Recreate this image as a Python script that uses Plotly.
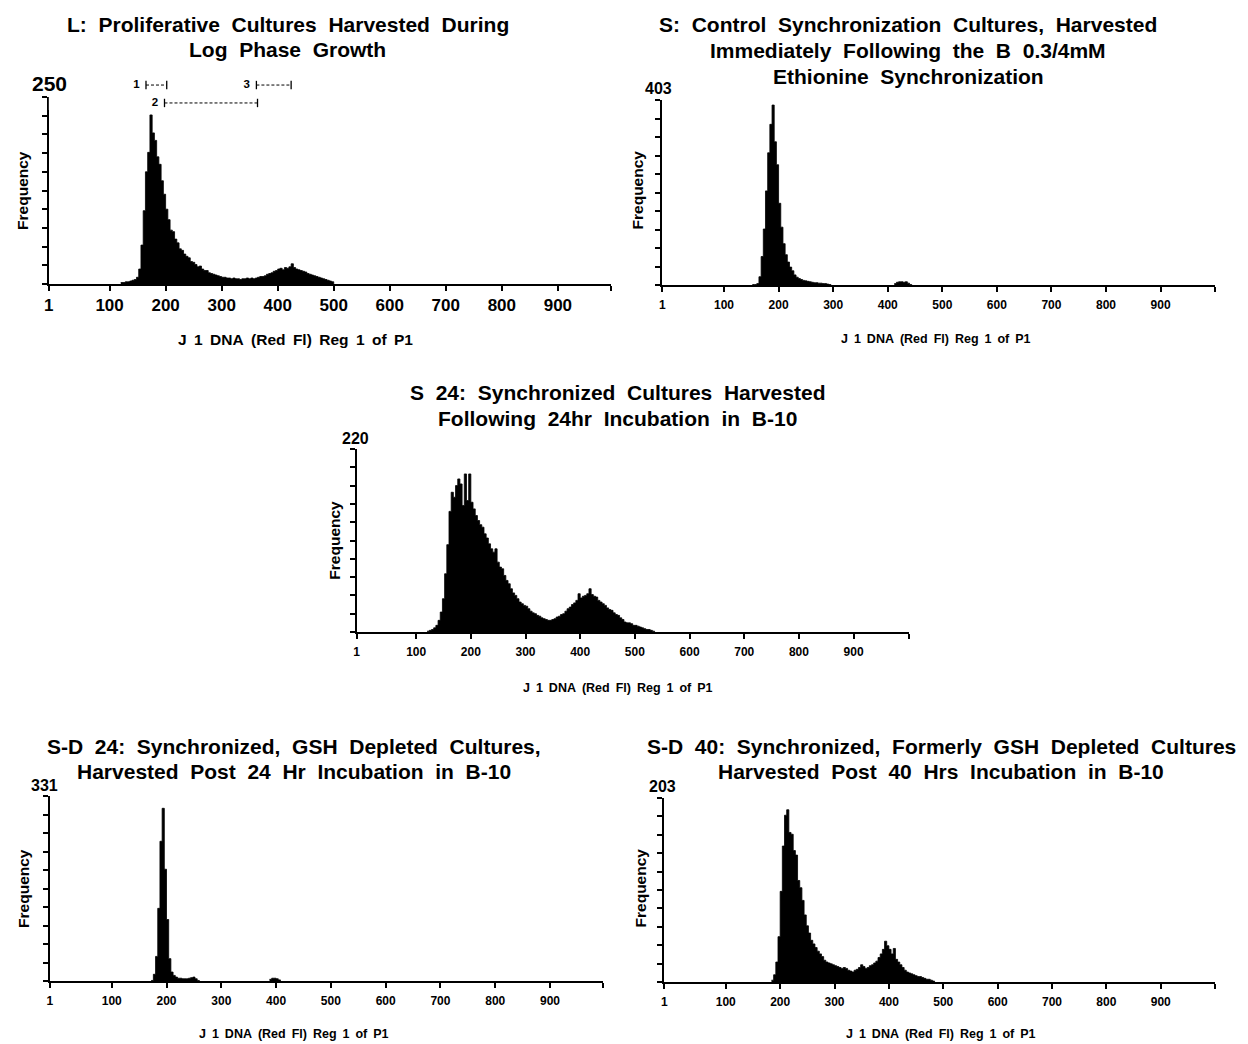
import plotly.graph_objects as go

W, H = 1248, 1044
BIN = 4  # channels per histogram bin

# ---------------- data (counts per 4-channel bin) ----------------
L_start = 120
L_counts = [2, 2, 3, 3, 4, 5, 6, 9, 20, 52,
            98, 150, 176, 226, 202, 192, 170, 160, 138, 120,
            100, 86, 72, 70, 60, 55, 47, 45, 40, 37,
            35, 30, 29, 26, 23, 24, 20, 18, 18, 15,
            14, 13, 12, 11, 10, 9, 9, 8, 8, 7,
            8, 7, 7, 6, 7, 7, 8, 7, 8, 7,
            8, 9, 10, 10, 11, 13, 14, 15, 17, 18,
            20, 21, 19, 22, 21, 23, 27, 22, 20, 19,
            18, 17, 16, 14, 13, 12, 11, 10, 9, 8,
            7, 6, 5, 4, 3]

S_start = 152
S_counts = [1, 1, 3, 18, 62, 122, 205, 288, 350, 392,
            312, 262, 178, 126, 90, 66, 50, 39, 31, 22,
            17, 14, 12, 10, 9, 8, 7, 6, 5, 5,
            4, 4, 3, 3, 2, 1]
S_bump_start = 412
S_bump_counts = [3, 6, 7, 7, 6, 7, 4, 1]

S24_start = 120
S24_counts = [1, 2, 3, 5, 8, 14, 24, 40, 70, 105,
              145, 168, 162, 176, 184, 178, 152, 190, 158, 190,
              156, 148, 140, 134, 129, 126, 118, 113, 106, 100,
              96, 100, 84, 78, 76, 68, 62, 58, 52, 47,
              44, 40, 36, 34, 32, 31, 28, 25, 23, 22,
              20, 19, 17, 16, 15, 14, 14, 15, 16, 18,
              19, 21, 22, 25, 28, 30, 33, 35, 38, 46,
              41, 43, 44, 46, 52, 45, 43, 42, 38, 36,
              34, 32, 29, 27, 26, 23, 21, 20, 17, 15,
              12, 11, 11, 10, 8, 8, 7, 6, 5, 4,
              3, 3, 2, 1]

SD24_start = 172
SD24_counts = [1, 12, 44, 130, 250, 309, 200, 110, 40, 16,
               10, 7, 5, 5, 4, 4, 4, 5, 6, 7,
               4, 1]
SD24_bump_start = 388
SD24_bump_counts = [3, 5, 5, 4, 2]

SD40_start = 184
SD40_counts = [2, 8, 22, 50, 100, 150, 184, 190, 165, 163,
               145, 140, 112, 104, 90, 74, 62, 54, 46, 42,
               38, 34, 31, 28, 24, 22, 21, 20, 19, 18,
               17, 16, 15, 16, 15, 13, 12, 11, 13, 14,
               16, 19, 17, 15, 16, 18, 19, 21, 23, 27,
               31, 36, 45, 40, 36, 31, 37, 25, 22, 19,
               16, 13, 11, 10, 9, 8, 7, 6, 6, 5,
               4, 3, 3, 2, 1]

y_max_L, y_max_S, y_max_S24, y_max_SD24, y_max_SD40 = 250, 403, 220, 331, 203

tick_values = [1, 100, 200, 300, 400, 500, 600, 700, 800, 900]
tick_labels = ["1", "100", "200", "300", "400", "500", "600", "700", "800", "900"]

# gating regions drawn above panel L (channel bounds)
region_names = ["1", "2", "3"]
region_lo = [165, 198, 362]
region_hi = [202, 364, 424]
region_level = [0.78, 0.22, 0.78]

titles = {
    "L": ["L: Proliferative Cultures Harvested During", "Log Phase Growth"],
    "S": ["S: Control Synchronization Cultures, Harvested",
          "Immediately Following the B 0.3/4mM", "Ethionine Synchronization"],
    "S24": ["S 24: Synchronized Cultures Harvested", "Following 24hr Incubation in B-10"],
    "SD24": ["S-D 24: Synchronized, GSH Depleted Cultures,",
             "Harvested Post 24 Hr Incubation in B-10"],
    "SD40": ["S-D 40: Synchronized, Formerly GSH Depleted Cultures",
             "Harvested Post 40 Hrs Incubation in B-10"],
}
x_title = "J 1 DNA (Red Fl) Reg 1 of P1"
y_title = "Frequency"

# ---------------- layout spec (pixels) ----------------
FONT = "Liberation Sans, Arial, Helvetica, sans-serif"
WIDE = "\u00a0\u00a0"          # wide word gap, as in the typeset original
MID = "\u00a0\u2009"           # medium word gap


def spaced(s, gap):
    return s.replace(" ", gap)


panels = [
    dict(key="L", segs=[(L_start, L_counts)], ymax=y_max_L,
         xd=(44, 608), yd=(97, 284), xr=(-8.4, 994),
         tickfs=17, xtfs=15.5, xt_pos=(292, 340), yl_pos=(18, 190),
         max_pos=(45, 83), max_fs=21,
         title_pos=[(284, 25), (284, 50)]),
    dict(key="S", segs=[(S_start, S_counts), (S_bump_start, S_bump_counts)], ymax=y_max_S,
         xd=(660, 1215), yd=(100, 285), xr=(-13, 1000),
         tickfs=12, xtfs=12.5, xt_pos=(935, 339), yl_pos=(636, 190),
         max_pos=(656, 88), max_fs=16,
         title_pos=[(907, 25), (907, 51), (907, 77)]),
    dict(key="S24", segs=[(S24_start, S24_counts)], ymax=y_max_S24,
         xd=(353, 908), yd=(449, 632), xr=(-9, 1002),
         tickfs=12, xtfs=12.5, xt_pos=(615, 688), yl_pos=(330, 540),
         max_pos=(352, 438), max_fs=16,
         title_pos=[(615, 392), (615, 418)]),
    dict(key="SD24", segs=[(SD24_start, SD24_counts), (SD24_bump_start, SD24_bump_counts)], ymax=y_max_SD24,
         xd=(45, 600), yd=(796, 981), xr=(-13, 996),
         tickfs=12, xtfs=12.5, xt_pos=(290, 1034), yl_pos=(18, 888),
         max_pos=(40, 785), max_fs=16,
         title_pos=[(290, 746), (290, 771)]),
    dict(key="SD40", segs=[(SD40_start, SD40_counts)], ymax=y_max_SD40,
         xd=(662, 1215), yd=(798, 982), xr=(-13, 1000),
         tickfs=12, xtfs=12.5, xt_pos=(940, 1034), yl_pos=(638, 888),
         max_pos=(660, 786), max_fs=16,
         title_pos=[(940, 746), (940, 771)]),
]


def fx(px):
    return px / W


def fy(py):
    return 1 - py / H


fig = go.Figure()
annotations = []
layout = dict(width=W, height=H, margin=dict(l=0, r=0, t=0, b=0), autosize=False,
              paper_bgcolor="white", plot_bgcolor="white", showlegend=False,
              font=dict(family=FONT, color="black"))

for i, p in enumerate(panels):
    n = i + 1
    xa, ya = ("x" if n == 1 else f"x{n}"), ("y" if n == 1 else f"y{n}")
    for start, counts in p["segs"]:
        edges = [start + BIN * k for k in range(len(counts) + 1)]
        fig.add_trace(go.Scatter(x=edges, y=list(counts) + [0], xaxis=xa, yaxis=ya,
                                 mode="lines", line=dict(shape="hv", color="black", width=0.8),
                                 fill="tozeroy", fillcolor="black", hoverinfo="skip"))
    # the instrument prints the first label ("1") at the axis origin
    tv = [p["xr"][0]] + tick_values[1:] + [p["xr"][1]]
    layout[f"xaxis{'' if n == 1 else n}"] = dict(
        domain=[fx(p["xd"][0]), fx(p["xd"][1])], range=list(p["xr"]), anchor=ya,
        showline=True, linecolor="black", linewidth=2, mirror=False,
        ticks="outside", ticklen=5, tickwidth=1.5, tickcolor="black",
        ticklabelstandoff=(0 if n == 1 else 3),
        tickvals=tv, ticktext=[f"<b>{t}</b>" for t in tick_labels] + [""],
        tickfont=dict(size=p["tickfs"], family=FONT, color="black"),
        showgrid=False, zeroline=False, fixedrange=True)
    layout[f"yaxis{'' if n == 1 else n}"] = dict(
        domain=[fy(p["yd"][1]), fy(p["yd"][0])], range=[0, p["ymax"]], anchor=xa,
        showline=True, linecolor="black", linewidth=2,
        ticks="outside", ticklen=5, tickwidth=1.5, tickcolor="black",
        tick0=0, dtick=p["ymax"] / 10, showticklabels=False,
        showgrid=False, zeroline=False, fixedrange=True)
    # titles
    for line, (tx, ty) in zip(titles[p["key"]], p["title_pos"]):
        annotations.append(dict(text=f"<b>{spaced(line, WIDE)}</b>", x=fx(tx), y=fy(ty),
                                xref="paper", yref="paper",
                                xanchor="center", yanchor="middle", showarrow=False,
                                font=dict(size=21, family=FONT, color="black")))
    # x title
    annotations.append(dict(text=f"<b>{spaced(x_title, MID)}</b>", x=fx(p["xt_pos"][0]), y=fy(p["xt_pos"][1]),
                            xref="paper", yref="paper", xanchor="center", yanchor="middle",
                            showarrow=False, font=dict(size=p["xtfs"], family=FONT, color="black")))
    # y title
    annotations.append(dict(text=f"<b>{y_title}</b>", x=fx(p["yl_pos"][0]), y=fy(p["yl_pos"][1]),
                            xref="paper", yref="paper", xanchor="center", yanchor="middle",
                            textangle=-90, showarrow=False,
                            font=dict(size=15.5, family=FONT, color="black")))
    # max label
    annotations.append(dict(text=f"<b>{p['ymax']}</b>", x=fx(p["max_pos"][0]), y=fy(p["max_pos"][1]),
                            xref="paper", yref="paper", xanchor="center", yanchor="middle",
                            showarrow=False, font=dict(size=p["max_fs"], family=FONT, color="black")))

# region markers above panel L, on an overlay axis sharing panel L's x scale
n_ov = len(panels) + 1
layout[f"xaxis{n_ov}"] = dict(domain=[fx(44), fx(608)], range=list(panels[0]["xr"]), anchor=f"y{n_ov}",
                              visible=False, fixedrange=True)
layout[f"yaxis{n_ov}"] = dict(domain=[fy(110), fy(78)], range=[0, 1], anchor=f"x{n_ov}",
                              visible=False, fixedrange=True)
for name, lo, hi, lev in zip(region_names, region_lo, region_hi, region_level):
    fig.add_trace(go.Scatter(x=[lo, hi], y=[lev, lev], mode="lines+markers",
                             line=dict(color="black", width=1, dash="3px,2px"),
                             marker=dict(symbol="line-ns-open", size=6, color="black",
                                         line=dict(width=1.3, color="black")),
                             xaxis=f"x{n_ov}", yaxis=f"y{n_ov}", hoverinfo="skip", cliponaxis=False))
    fig.add_trace(go.Scatter(x=[lo], y=[lev], mode="text", text=[f"<b>{name}</b>\u00a0\u00a0"],
                             textposition="middle left", textfont=dict(size=11.5, family=FONT, color="black"),
                             xaxis=f"x{n_ov}", yaxis=f"y{n_ov}", hoverinfo="skip", cliponaxis=False))

layout["annotations"] = annotations
fig.update_layout(**layout)
fig.write_html("out.html", config={"displayModeBar": False},
               post_script="document.body.style.margin='0px';")
